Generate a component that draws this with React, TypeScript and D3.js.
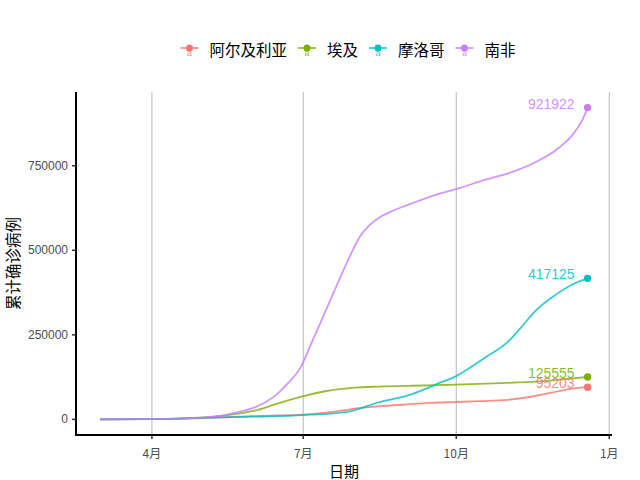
import React from "react";
import * as d3 from "d3";

const countries = ["阿尔及利亚", "埃及", "摩洛哥", "南非"];
const colors = ["#F8766D", "#7CAE00", "#00BFC4", "#C77CFF"];

const algeriaDates = ["2020-03-01","2020-04-01","2020-05-01","2020-06-01","2020-07-01","2020-07-18","2020-08-01","2020-08-15","2020-09-01","2020-09-15","2020-10-01","2020-10-15","2020-11-01","2020-11-15","2020-12-01","2020-12-10","2020-12-19"];
const algeriaValues = [0,850,4000,9500,14000,22000,32000,38500,44500,49000,51500,54000,58000,67000,83000,91000,95203];

const egyptDates = ["2020-03-01","2020-04-01","2020-05-01","2020-05-15","2020-06-01","2020-06-15","2020-07-01","2020-07-15","2020-08-01","2020-08-15","2020-09-01","2020-10-01","2020-11-01","2020-11-15","2020-12-01","2020-12-10","2020-12-19"];
const egyptValues = [0,700,5500,11700,25000,46000,69000,84000,94000,97000,99000,103000,108000,111000,117000,121500,125555];

const moroccoDates = ["2020-03-01","2020-04-01","2020-05-01","2020-06-01","2020-07-01","2020-07-29","2020-08-15","2020-09-04","2020-09-22","2020-10-01","2020-10-08","2020-10-20","2020-11-01","2020-11-09","2020-11-17","2020-11-29","2020-12-11","2020-12-19"];
const moroccoValues = [0,650,4400,8000,12500,24000,50000,74000,110000,128000,149000,188000,229000,272000,318000,366000,402000,417125];

const safricaDates = ["2020-03-01","2020-04-01","2020-04-20","2020-05-01","2020-05-15","2020-05-22","2020-06-01","2020-06-08","2020-06-15","2020-06-22","2020-06-29","2020-07-05","2020-07-11","2020-07-17","2020-07-23","2020-07-29","2020-08-04","2020-08-10","2020-08-16","2020-08-23","2020-09-04","2020-09-18","2020-10-03","2020-10-18","2020-11-02","2020-11-17","2020-12-02","2020-12-10","2020-12-16","2020-12-19"];
const safricaValues = [0,1400,3300,5600,13000,21000,34000,50000,74000,108000,150000,215000,282000,350000,417000,482000,540000,575000,598000,615000,638000,663000,684000,708000,729000,759000,804000,842000,887000,921922];

const xTickDates = ["2020-04-01","2020-07-01","2020-10-01","2021-01-01"];
const xTickLabels = ["4月","7月","10月","1月"];
const yTicks = [0, 250000, 500000, 750000];

const parse = d3.timeParse("%Y-%m-%d");

const seriesDates = [algeriaDates, egyptDates, moroccoDates, safricaDates];
const seriesValues = [algeriaValues, egyptValues, moroccoValues, safricaValues];

export default function App() {
  const W = 640, H = 480;
  const left = 76, right = 612, top = 92, bottom = 435;

  const series = seriesDates.map((ds, i) =>
    ds.map((d, j) => ({ date: parse(d) as Date, value: seriesValues[i][j] }))
  );
  const allDates = series.flat().map((p) => p.date);
  const [dMin, dMax] = d3.extent(allDates) as [Date, Date];
  const span = +dMax - +dMin;
  const x = d3.scaleTime()
    .domain([new Date(+dMin - span * 0.05), new Date(+dMax + span * 0.05)])
    .range([left, right]);
  const vMax = d3.max(series.flat(), (p) => p.value) as number;
  const y = d3.scaleLinear()
    .domain([-vMax * 0.05, vMax * 1.05])
    .range([bottom, top]);

  const line = d3.line<{ date: Date; value: number }>()
    .x((p) => x(p.date))
    .y((p) => y(p.value))
    .curve(d3.curveMonotoneX);

  const fontNum = "Liberation Sans, Arial, sans-serif";
  const fontCJK = "'Noto Sans CJK SC', sans-serif";

  // legend layout
  const lgFont = 15.5;
  const keyW = 18, gapKT = 11, gapItem = 11;
  const widths = countries.map((c) => keyW + gapKT + c.length * lgFont);
  const total = d3.sum(widths) + gapItem * (countries.length - 1);
  let cursor = 348 - total / 2;
  const legendItems = countries.map((c, i) => {
    const xs = cursor;
    cursor += widths[i] + gapItem;
    return { c, xs, color: colors[i] };
  });
  const lgY = 48;

  return (
    <svg width={W} height={H} style={{ display: "block", position: "absolute", left: 0, top: 0, background: "#fff" }}>
      {/* grid */}
      {xTickDates.map((d, i) => (
        <line key={"g" + i} x1={x(parse(d) as Date)} x2={x(parse(d) as Date)} y1={top} y2={bottom} stroke="#BEBEBE" strokeWidth={1.1} />
      ))}
      {/* lines */}
      {series.map((s, i) => (
        <path key={"l" + i} d={line(s) || ""} fill="none" stroke={colors[i]} strokeOpacity={0.8} strokeWidth={1.8} />
      ))}
      {/* end points and labels */}
      {series.map((s, i) => {
        const last = s[s.length - 1];
        const px = x(last.date), py = y(last.value);
        return (
          <g key={"e" + i}>
            <circle cx={px} cy={py} r={3.7} fill={colors[i]} />
            <text x={px - 13} y={py - 4} textAnchor="end" dominantBaseline="central" fontSize={14} fontFamily={fontNum} fill={colors[i]} fillOpacity={0.85}>
              {last.value}
            </text>
          </g>
        );
      })}
      {/* axes */}
      <line x1={left} x2={left} y1={top} y2={bottom} stroke="#000" strokeWidth={2} />
      <line x1={left - 1} x2={right} y1={bottom} y2={bottom} stroke="#000" strokeWidth={2} />
      {yTicks.map((t) => (
        <g key={"yt" + t}>
          <line x1={left - 4} x2={left} y1={y(t)} y2={y(t)} stroke="#333" strokeWidth={1.5} />
          <text x={left - 8} y={y(t)} textAnchor="end" dominantBaseline="central" fontSize={12} fontFamily={fontNum} fill="#4D4D4D">{t}</text>
        </g>
      ))}
      {xTickDates.map((d, i) => {
        const xx = x(parse(d) as Date);
        return (
          <g key={"xt" + i}>
            <line x1={xx} x2={xx} y1={bottom} y2={bottom + 4} stroke="#333" strokeWidth={1.5} />
            <text x={xx} y={bottom + 17} textAnchor="middle" dominantBaseline="central" fontSize={12} fontFamily={fontCJK} fill="#4D4D4D">{xTickLabels[i]}</text>
          </g>
        );
      })}
      {/* axis titles */}
      <text x={(left + right) / 2} y={470} textAnchor="middle" dominantBaseline="central" fontSize={15} fontFamily={fontCJK} fill="#000">日期</text>
      <text transform={`translate(12,${(top + bottom) / 2}) rotate(-90)`} textAnchor="middle" dominantBaseline="central" fontSize={15.5} fontFamily={fontCJK} fill="#000">累计确诊病例</text>
      {/* legend */}
      {legendItems.map((it, i) => (
        <g key={"lg" + i}>
          <line x1={it.xs} x2={it.xs + keyW} y1={lgY} y2={lgY} stroke={it.color} strokeWidth={1.8} strokeOpacity={0.8} />
          <circle cx={it.xs + keyW / 2} cy={lgY} r={3.5} fill={it.color} />
          <text x={it.xs + keyW / 2} y={lgY + 5} textAnchor="middle" dominantBaseline="central" fontSize={9} fontFamily={fontNum} fill={it.color} fillOpacity={0.85}>a</text>
          <text x={it.xs + keyW + gapKT} y={lgY + 1} dominantBaseline="central" fontSize={lgFont} fontFamily={fontCJK} fill="#000">{it.c}</text>
        </g>
      ))}
    </svg>
  );
}
